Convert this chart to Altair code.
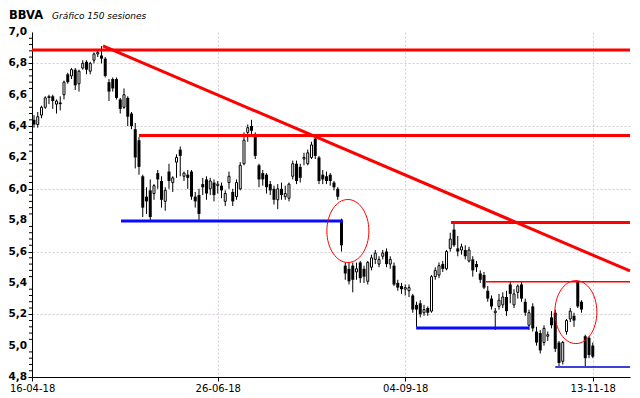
import altair as alt
import pandas as pd

# ---------------- data ----------------
opens = [6.44, 6.41, 6.47, 6.52, 6.59, 6.59, 6.54, 6.55, 6.60, 6.73,
         6.72, 6.76, 6.67, 6.77, 6.81, 6.75, 6.82, 6.86, 6.85, 6.83,
         6.68, 6.70, 6.70, 6.57, 6.52, 6.58, 6.48, 6.38, 6.31, 6.08,
         5.95, 5.99, 5.97, 6.10, 6.05, 5.92, 6.11, 6.04, 6.17, 6.25,
         6.08, 6.09, 6.11, 5.95, 5.96, 6.03, 6.06, 6.00, 6.04, 6.02,
         6.02, 5.92, 6.04, 5.98, 5.95, 6.00, 6.16, 6.36, 6.40, 6.35,
         6.15, 6.10, 6.09, 6.03, 6.00, 5.93, 6.00, 5.95, 5.94, 6.08,
         6.16, 6.14, 6.19, 6.16, 6.20, 6.32, 6.20, 6.09, 6.08, 6.09,
         6.04, 6.00, 5.80, 5.51, 5.49, 5.51, 5.47, 5.53, 5.49, 5.41,
         5.50, 5.55, 5.52, 5.57, 5.60, 5.52, 5.51, 5.40, 5.38, 5.36,
         5.35, 5.32, 5.26, 5.27, 5.21, 5.24, 5.22, 5.44, 5.45, 5.52,
         5.49, 5.62, 5.74, 5.62, 5.61, 5.61, 5.54, 5.55, 5.52, 5.46,
         5.45, 5.35, 5.30, 5.21, 5.25, 5.26, 5.31, 5.39, 5.26, 5.34,
         5.39, 5.28, 5.13, 5.25, 5.09, 5.08, 5.02, 5.06, 5.18, 5.21,
         5.02, 4.90, 5.09, 5.17, 5.19, 5.41, 5.28, 5.06, 5.05, 5.00]
highs = [6.47, 6.49, 6.53, 6.59, 6.60, 6.60, 6.57, 6.59, 6.69, 6.74,
         6.77, 6.77, 6.76, 6.82, 6.82, 6.81, 6.87, 6.89, 6.91, 6.84,
         6.70, 6.71, 6.71, 6.58, 6.64, 6.59, 6.49, 6.42, 6.33, 6.09,
         6.01, 6.06, 6.03, 6.12, 6.08, 6.01, 6.16, 6.08, 6.22, 6.27,
         6.11, 6.12, 6.12, 5.98, 6.00, 6.07, 6.08, 6.07, 6.06, 6.05,
         6.04, 5.99, 6.11, 6.00, 6.06, 6.17, 6.36, 6.41, 6.44, 6.36,
         6.16, 6.12, 6.10, 6.05, 6.02, 6.03, 6.04, 6.02, 6.04, 6.18,
         6.18, 6.16, 6.23, 6.25, 6.30, 6.34, 6.21, 6.12, 6.11, 6.10,
         6.05, 6.01, 5.81, 5.53, 5.53, 5.53, 5.53, 5.54, 5.51, 5.54,
         5.58, 5.61, 5.57, 5.61, 5.62, 5.57, 5.53, 5.42, 5.40, 5.39,
         5.39, 5.33, 5.28, 5.29, 5.26, 5.25, 5.45, 5.50, 5.53, 5.54,
         5.61, 5.72, 5.79, 5.70, 5.65, 5.64, 5.63, 5.57, 5.54, 5.48,
         5.47, 5.38, 5.32, 5.24, 5.33, 5.34, 5.35, 5.41, 5.36, 5.39,
         5.41, 5.30, 5.23, 5.27, 5.12, 5.10, 5.13, 5.09, 5.22, 5.23,
         5.03, 5.03, 5.17, 5.24, 5.21, 5.41, 5.29, 5.07, 5.06, 5.02]
lows = [6.39, 6.39, 6.45, 6.51, 6.54, 6.51, 6.48, 6.50, 6.57, 6.67,
        6.70, 6.63, 6.62, 6.76, 6.73, 6.73, 6.80, 6.84, 6.80, 6.71,
        6.56, 6.62, 6.57, 6.48, 6.51, 6.40, 6.38, 6.13, 6.09, 5.82,
        5.84, 5.79, 5.93, 6.00, 5.88, 5.86, 6.00, 5.98, 6.07, 6.08,
        6.05, 6.00, 5.93, 5.88, 5.79, 5.96, 5.93, 5.96, 5.92, 5.97,
        5.94, 5.89, 6.00, 5.89, 5.93, 5.99, 6.15, 6.30, 6.35, 6.19,
        6.01, 6.02, 5.97, 5.96, 5.90, 5.87, 5.93, 5.93, 5.92, 6.06,
        6.03, 6.04, 6.15, 6.15, 6.19, 6.19, 6.03, 6.03, 6.03, 6.02,
        5.99, 5.93, 5.60, 5.42, 5.39, 5.34, 5.42, 5.40, 5.40, 5.39,
        5.48, 5.52, 5.50, 5.55, 5.50, 5.49, 5.38, 5.35, 5.33, 5.32,
        5.31, 5.21, 5.12, 5.18, 5.19, 5.19, 5.21, 5.42, 5.43, 5.47,
        5.48, 5.60, 5.63, 5.57, 5.58, 5.55, 5.53, 5.44, 5.47, 5.40,
        5.36, 5.28, 5.23, 5.10, 5.23, 5.24, 5.19, 5.27, 5.24, 5.30,
        5.28, 5.19, 5.10, 5.09, 5.00, 4.95, 5.00, 5.03, 5.11, 4.96,
        4.87, 4.88, 5.07, 5.15, 5.12, 5.24, 5.21, 4.87, 4.92, 4.92]
closes = [6.41, 6.46, 6.52, 6.58, 6.58, 6.56, 6.56, 6.54, 6.68, 6.68,
          6.76, 6.66, 6.75, 6.80, 6.76, 6.80, 6.86, 6.87, 6.83, 6.72,
          6.62, 6.64, 6.58, 6.51, 6.60, 6.46, 6.40, 6.20, 6.14, 5.88,
          5.92, 5.82, 6.02, 6.06, 5.93, 5.99, 6.05, 6.07, 6.20, 6.21,
          6.10, 6.07, 5.95, 5.92, 5.84, 6.01, 5.97, 6.05, 5.96, 6.03,
          5.99, 5.97, 6.08, 5.92, 6.04, 6.15, 6.31, 6.39, 6.37, 6.21,
          6.06, 6.06, 6.01, 5.99, 5.93, 6.00, 5.96, 5.97, 6.03, 6.16,
          6.05, 6.07, 6.20, 6.23, 6.28, 6.21, 6.05, 6.06, 6.05, 6.05,
          6.01, 5.95, 5.64, 5.46, 5.41, 5.42, 5.49, 5.43, 5.44, 5.53,
          5.56, 5.59, 5.55, 5.59, 5.52, 5.55, 5.39, 5.37, 5.36, 5.37,
          5.37, 5.23, 5.23, 5.20, 5.23, 5.21, 5.44, 5.48, 5.51, 5.49,
          5.60, 5.68, 5.64, 5.60, 5.63, 5.57, 5.61, 5.48, 5.50, 5.42,
          5.37, 5.30, 5.25, 5.22, 5.29, 5.31, 5.22, 5.33, 5.33, 5.38,
          5.30, 5.21, 5.21, 5.11, 5.02, 4.97, 5.11, 5.07, 5.13, 4.98,
          4.89, 5.02, 5.16, 5.22, 5.16, 5.25, 5.23, 4.92, 4.94, 4.93]

# axis ticks
x_tick_index = [-0.5, 49, 99, 149]
x_tick_labels = ["16-04-18", "26-06-18", "04-09-18", "13-11-18"]
y_major = [4.8, 5.0, 5.2, 5.4, 5.6, 5.8, 6.0, 6.2, 6.4, 6.6, 6.8, 7.0]
y_labels = ["4,8", "5,0", "5,2", "5,4", "5,6", "5,8", "6,0", "6,2", "6,4", "6,6", "6,8", "7,0"]

# support / resistance lines (session index, price)
thick_red_x1 = [-0.53, 18.4, 28.0, 111.2]
thick_red_x2 = [158.93, 158.93, 158.93, 158.93]
thick_red_y1 = [6.885, 6.911, 6.34, 5.785]
thick_red_y2 = [6.885, 5.476, 6.34, 5.785]
thick_blue_x1 = [23.2, 101.9]
thick_blue_x2 = [82.4, 132.0]
thick_blue_y = [5.795, 5.112]
thin_red_x1 = [120.5]
thin_red_y = [5.408]
thin_blue_x1 = [139.0]
thin_blue_y = [4.864]
line_end = [158.93]

# circled sessions (centre, session index / price)
ellipse_x = [83.7, 144.5]
ellipse_y = [5.731, 5.214]

title_main = ["BBVA"]
title_sub = ["Gráfico 150 sesiones"]

# ---------------- build ----------------
n = len(closes)
df = pd.DataFrame({"i": list(range(n)), "o": opens, "h": highs, "l": lows, "c": closes})
df_up = df[df["c"] >= df["o"]]
df_dn = df[df["c"] < df["o"]]

xs = alt.Scale(domain=[-0.53, 158.93], nice=False, zero=False, padding=0)
ys = alt.Scale(domain=[4.8, 7.0], nice=False, zero=False, padding=0)

GRID = "#d4cbd4"

label_x_expr = "[" + ",".join("'%s'" % s for s in x_tick_labels) + "][indexof([" + \
    ",".join(str(v) for v in x_tick_index) + "], datum.value)]"

x_axis = alt.Axis(values=x_tick_index, labelExpr=label_x_expr, grid=True,
                  gridColor=GRID, gridDash=[2, 2], gridWidth=1,
                  tickSize=4, tickColor="black", domainColor="black", domainWidth=1,
                  labelFont="DejaVu Sans", labelFontSize=10, labelColor="black",
                  labelPadding=2, title=None, labelOverlap=False, labelFlush=False)
y_axis = alt.Axis(values=y_major, labels=False,
                  grid=True, gridColor=GRID, gridDash=[2, 2], gridWidth=1,
                  tickSize=4, tickColor="black", domainColor="black", domainWidth=1,
                  title=None)

X = alt.X("i:Q", scale=xs, axis=x_axis)
Y = alt.Y("l:Q", scale=ys, axis=y_axis)

wicks = alt.Chart(df).mark_rule(color="black", strokeWidth=1).encode(
    x=X, y=Y, y2="h:Q",
)
bodies_dn = alt.Chart(df_dn).mark_bar(color="black", size=3, orient="vertical").encode(
    x=alt.X("i:Q"), y=alt.Y("o:Q"), y2="c:Q",
)
bodies_up = alt.Chart(df_up).mark_bar(fill="white", stroke="black", strokeWidth=1,
                                      size=2, orient="vertical").encode(
    x=alt.X("i:Q"), y=alt.Y("o:Q"), y2="c:Q",
)

minor_vals = [round(4.8 + 0.04 * k, 2) for k in range(56) if k % 5 != 0]
minor = alt.Chart(pd.DataFrame({"v": minor_vals})).mark_rule(color="black", strokeWidth=1).encode(
    x=alt.value(-3), x2=alt.value(0),
    y=alt.Y("v:Q"),
)

ylab = alt.Chart(pd.DataFrame({"v": y_major, "t": y_labels})).mark_text(
    font="DejaVu Sans", fontSize=10.5, fontWeight="bold", color="black",
    align="right", baseline="middle"
).encode(text="t:N", x=alt.value(-5), y=alt.Y("v:Q"))

red_df = pd.DataFrame({"x1": thick_red_x1, "x2": thick_red_x2, "y1": thick_red_y1, "y2": thick_red_y2})
thick_red = alt.Chart(red_df).mark_rule(color="#ff0000", strokeWidth=3).encode(
    x=alt.X("x1:Q"), x2="x2:Q", y=alt.Y("y1:Q"), y2="y2:Q",
)
blue_df = pd.DataFrame({"x1": thick_blue_x1, "x2": thick_blue_x2, "y": thick_blue_y})
thick_blue = alt.Chart(blue_df).mark_rule(color="#0a0aff", strokeWidth=3).encode(
    x=alt.X("x1:Q"), x2="x2:Q", y=alt.Y("y:Q"),
)
tr_df = pd.DataFrame({"x1": thin_red_x1, "x2": line_end, "y": thin_red_y})
thin_red = alt.Chart(tr_df).mark_rule(color="#ff0000", strokeWidth=1.5).encode(
    x=alt.X("x1:Q"), x2="x2:Q", y=alt.Y("y:Q"),
)
tb_df = pd.DataFrame({"x1": thin_blue_x1, "x2": line_end, "y": thin_blue_y})
thin_blue = alt.Chart(tb_df).mark_rule(color="#0000c8", strokeWidth=1.5).encode(
    x=alt.X("x1:Q"), x2="x2:Q", y=alt.Y("y:Q"),
)

ellipse_path = ("M 0 -1 C 0.368 -1 0.667 -0.552 0.667 0 C 0.667 0.552 0.368 1 0 1 "
                "C -0.368 1 -0.667 0.552 -0.667 0 C -0.667 -0.552 -0.368 -1 0 -1 Z")
ellipses = alt.Chart(pd.DataFrame({"x": ellipse_x, "y": ellipse_y})).mark_point(
    shape=ellipse_path, size=3969, filled=False, color="#ff0000", strokeWidth=1, opacity=1
).encode(
    x=alt.X("x:Q"), y=alt.Y("y:Q"),
)

t1 = alt.Chart(pd.DataFrame({"t": title_main})).mark_text(
    font="DejaVu Sans", fontSize=11.5, fontWeight="bold", color="black",
    align="left", baseline="alphabetic"
).encode(text="t:N", x=alt.value(-23), y=alt.value(-13))
t2 = alt.Chart(pd.DataFrame({"t": title_sub})).mark_text(
    font="DejaVu Sans", fontSize=9, fontStyle="italic", color="black",
    align="left", baseline="alphabetic"
).encode(text="t:N", x=alt.value(20), y=alt.value(-13))

chart = alt.layer(
    wicks, bodies_dn, bodies_up, minor, ylab, thick_red, thick_blue, thin_red, thin_blue,
    ellipses, t1, t2
).properties(
    width=598, height=345,
    autosize=alt.AutoSizeParams(type="none"),
    padding={"left": 24, "top": 24, "right": 2, "bottom": 21},
    background="white",
).configure_view(strokeWidth=0)

chart.save("out.html", embed_options={"renderer": "svg", "actions": False})
